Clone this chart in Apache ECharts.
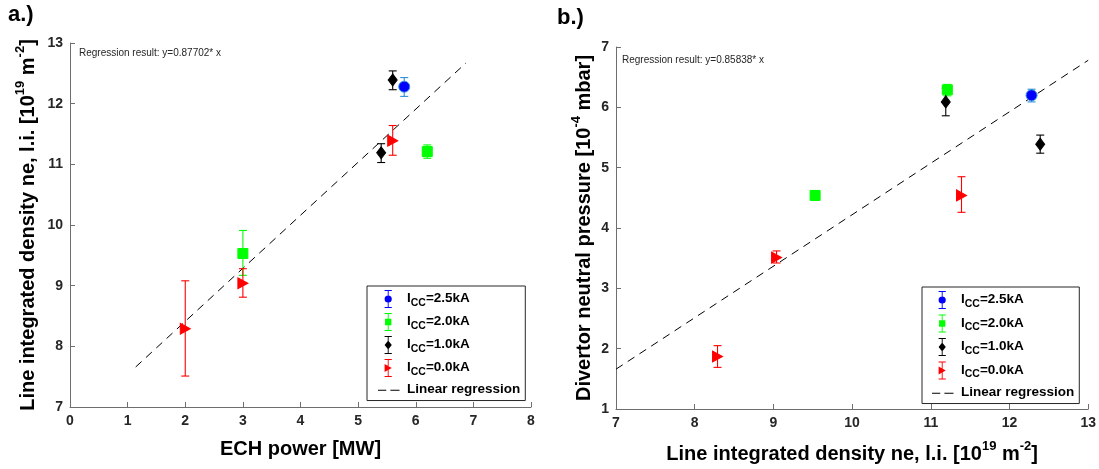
<!DOCTYPE html>
<html>
<head>
<meta charset="utf-8">
<script src="https://cdn.jsdelivr.net/npm/echarts@6/dist/echarts.min.js"></script>
<style>
html,body{margin:0;padding:0;background:#fff;}
#main{width:1099px;height:469px;}
</style>
</head>
<body>
<div id="main"></div>
<script>
// ---------- data ----------
const groupNames = ['2.5kA', '2.0kA', '1.0kA', '0.0kA'];
const regName = 'Linear regression';

// Panel a: ECH power [MW] vs line integrated density
const aBlueX = [5.8],            aBlueY = [12.28],             aBlueLo = [12.12],             aBlueHi = [12.43];
const aGreenX = [3.0, 6.2],      aGreenY = [9.53, 11.21],      aGreenLo = [9.17, 11.10],      aGreenHi = [9.91, 11.32];
const aBlackX = [5.4, 5.6],      aBlackY = [11.19, 12.39],     aBlackLo = [11.03, 12.23],     aBlackHi = [11.34, 12.54];
const aRedX = [2.0, 3.0, 5.6],   aRedY = [8.29, 9.04, 11.39],  aRedLo = [7.51, 8.81, 11.15],  aRedHi = [9.08, 9.28, 11.64];
const aRegX = [1.14, 6.87],      aRegY = [7.66, 12.67];

// Panel b: line integrated density vs divertor neutral pressure
const bBlueX = [12.28],            bBlueY = [6.20],             bBlueLo = [6.09],             bBlueHi = [6.30];
const bGreenX = [9.53, 11.21],     bGreenY = [4.54, 6.29],      bGreenLo = [4.46, 6.19],      bGreenHi = [4.62, 6.38];
const bBlackX = [11.19, 12.39],    bBlackY = [6.09, 5.39],      bBlackLo = [5.86, 5.24],      bBlackHi = [6.32, 5.54];
const bRedX = [8.29, 9.04, 11.39], bRedY = [1.87, 3.51, 4.54],  bRedLo = [1.69, 3.42, 4.26],  bRedHi = [2.05, 3.62, 4.85];
const bRegX = [7.0, 13.0],         bRegY = [1.66, 6.78];

const aXTicks = [0, 1, 2, 3, 4, 5, 6, 7, 8];
const aYTicks = [7, 8, 9, 10, 11, 12, 13];
const bXTicks = [7, 8, 9, 10, 11, 12, 13];
const bYTicks = [1, 2, 3, 4, 5, 6, 7];

const aRegText = 'Regression result: y=0.87702* x';
const bRegText = 'Regression result: y=0.85838* x';

// ---------- styles ----------
const FONT = '"Liberation Sans", Arial, Helvetica, sans-serif';
const styles = {
  '2.5kA': {fill: '#0000ff', bar: '#2f8fd8', symbol: 'circle', size: 11, rotate: 0, border: '#2f8fd8'},
  '2.0kA': {fill: '#00ff00', bar: '#00ff00', symbol: 'rect', size: 10, rotate: 0, border: '#00ff00'},
  '1.0kA': {fill: '#000000', bar: '#000000', symbol: 'diamond', size: [9, 12], rotate: 0, border: '#000000'},
  '0.0kA': {fill: '#ff0000', bar: '#ff0000', symbol: 'triangle', size: [11, 10], rotate: -90, border: '#ff0000'}
};

// legend icons (error bar + marker), bbox 0..24 x 0..20, marker centred at x=10
const bboxPts = 'M24 10L24.01 10L24.01 10.01Z M0 10L0.01 10L0.01 10.01Z M10 0L10.01 0L10.01 0.01Z M10 20L10.01 20L10.01 19.99Z ';
const barPath = bboxPts + 'M6 0L14 0L14 1.2L6 1.2Z M9.5 0L10.5 0L10.5 20L9.5 20Z M6 18.8L14 18.8L14 20L6 20Z ';
const iconPaths = {
  '2.5kA': 'path://' + barPath + 'M14 10A4 4 0 1 1 6 10A4 4 0 1 1 14 10Z',
  '2.0kA': 'path://' + barPath + 'M6.5 6.5L13.5 6.5L13.5 13.5L6.5 13.5Z',
  '1.0kA': 'path://' + barPath + 'M10 5L14 10L10 15L6 10Z',
  '0.0kA': 'path://' + barPath + 'M6 5.5L14 10L6 14.5Z'
};
const regIcon = 'path://' + bboxPts + 'M-5 9.4L5 9.4L5 10.6L-5 10.6Z M10 9.4L21 9.4L21 10.6L10 10.6Z';

function pack(xs, ys, los, his) {
  return xs.map((x, i) => [x, ys[i], los[i], his[i]]);
}

const panelA = {
  '2.5kA': pack(aBlueX, aBlueY, aBlueLo, aBlueHi),
  '2.0kA': pack(aGreenX, aGreenY, aGreenLo, aGreenHi),
  '1.0kA': pack(aBlackX, aBlackY, aBlackLo, aBlackHi),
  '0.0kA': pack(aRedX, aRedY, aRedLo, aRedHi)
};
const panelB = {
  '2.5kA': pack(bBlueX, bBlueY, bBlueLo, bBlueHi),
  '2.0kA': pack(bGreenX, bGreenY, bGreenLo, bGreenHi),
  '1.0kA': pack(bBlackX, bBlackY, bBlackLo, bBlackHi),
  '0.0kA': pack(bRedX, bRedY, bRedLo, bRedHi)
};

function errRenderer(color) {
  return function (params, api) {
    const x = api.value(0), lo = api.value(2), hi = api.value(3);
    const p1 = api.coord([x, lo]), p2 = api.coord([x, hi]);
    const hw = 4;
    const st = {stroke: color, lineWidth: 1.1, fill: null};
    return {
      type: 'group',
      children: [
        {type: 'line', shape: {x1: p1[0], y1: p1[1], x2: p2[0], y2: p2[1]}, style: st},
        {type: 'line', shape: {x1: p1[0] - hw, y1: p1[1], x2: p1[0] + hw, y2: p1[1]}, style: st},
        {type: 'line', shape: {x1: p2[0] - hw, y1: p2[1], x2: p2[0] + hw, y2: p2[1]}, style: st}
      ]
    };
  };
}

const series = [];
function addPanel(panel, regX, regY, idx) {
  series.push({
    type: 'line', name: regName, xAxisIndex: idx, yAxisIndex: idx,
    data: regX.map((x, i) => [x, regY[i]]),
    symbol: 'none', silent: true, z: 1,
    itemStyle: {color: '#000'},
    lineStyle: {color: '#000', width: 1, type: [8, 6]}
  });
  groupNames.forEach(g => {
    const s = styles[g];
    series.push({
      type: 'custom', name: g, xAxisIndex: idx, yAxisIndex: idx,
      data: panel[g], encode: {x: 0, y: [2, 3]},
      itemStyle: {color: s.fill},
      renderItem: errRenderer(s.bar), z: 2, silent: true
    });
    series.push({
      type: 'scatter', name: g, xAxisIndex: idx, yAxisIndex: idx,
      data: panel[g].map(d => [d[0], d[1]]),
      symbol: s.symbol, symbolSize: s.size, symbolRotate: s.rotate, z: 3, silent: true,
      itemStyle: {color: s.fill, borderColor: s.border, borderWidth: 1, opacity: 1}
    });
  });
}
addPanel(panelA, aRegX, aRegY, 0);
addPanel(panelB, bRegX, bRegY, 1);

const tickLabel = {color: '#262626', fontFamily: FONT, fontWeight: 'bold', fontSize: 14};
const axisLine = {show: true, lineStyle: {color: '#6e6e6e', width: 1}};
const axisTick = {show: true, inside: true, length: 5, lineStyle: {color: '#6e6e6e', width: 1}};
const nameRich = {
  t: {fontFamily: FONT, fontWeight: 'bold', fontSize: 20, color: '#000', lineHeight: 24, verticalAlign: 'bottom'},
  p: {fontFamily: FONT, fontWeight: 'bold', fontSize: 13, color: '#000', lineHeight: 13, verticalAlign: 'top'}
};
function valAxis(min, max, ticks, extra) {
  return Object.assign({
    type: 'value', min: min, max: max, interval: 1,
    splitLine: {show: false}, axisLine: axisLine, axisTick: axisTick,
    axisLabel: Object.assign({margin: 7}, tickLabel),
    nameTextStyle: {rich: nameRich}
  }, extra);
}

const legendRich = {
  t: {fontFamily: FONT, fontWeight: 'bold', fontSize: 13.5, color: '#000', lineHeight: 15, verticalAlign: 'top'},
  s: {fontFamily: FONT, fontWeight: 'bold', fontSize: 10.5, color: '#000', lineHeight: 10, verticalAlign: 'top', padding: [6, 0, 0, 0]}
};
function legendFmt(name) {
  if (name === regName) return '{t|Linear regression}';
  return '{t|I}{s|CC}{t|=' + name + '}';
}
const legendData = groupNames.map(g => ({name: g, icon: iconPaths[g], itemStyle: {color: styles[g].fill, borderWidth: 0}}))
  .concat([{name: regName, icon: regIcon, itemStyle: {color: '#000', borderWidth: 0}}]);
function makeLegend(left, top, padLeft, gap) {
  return {
    orient: 'vertical', left: left, top: top,
    data: legendData, formatter: legendFmt,
    itemWidth: 24, itemHeight: 18, itemGap: gap,
    padding: [4, 5, 2, padLeft],
    borderColor: '#262626', borderWidth: 1, backgroundColor: '#fff',
    textStyle: {rich: legendRich}, selectedMode: false
  };
}

const option = {
  animation: false,
  backgroundColor: '#fff',
  grid: [
    {left: 70, top: 43, width: 461, height: 364},
    {left: 616, top: 47, width: 474, height: 364.5}
  ],
  xAxis: [
    valAxis(aXTicks[0], aXTicks[aXTicks.length - 1], aXTicks, {gridIndex: 0, name: '{t|ECH power [MW]}', nameLocation: 'middle', nameGap: 28}),
    valAxis(bXTicks[0], bXTicks[bXTicks.length - 1], bXTicks, {gridIndex: 1, name: '{t|Line integrated density ne, l.i. [10}{p|19}{t| m}{p|-2}{t|]}', nameLocation: 'middle', nameGap: 31})
  ],
  yAxis: [
    valAxis(aYTicks[0], aYTicks[aYTicks.length - 1], aYTicks, {gridIndex: 0, name: '{t|Line integrated density ne, l.i. [10}{p|19}{t| m}{p|-2}{t|]}', nameLocation: 'middle', nameGap: 32}),
    valAxis(bYTicks[0], bYTicks[bYTicks.length - 1], bYTicks, {gridIndex: 1, name: '{t|Divertor neutral pressure [10}{p|-4}{t| mbar]}', nameLocation: 'middle', nameGap: 22})
  ],
  legend: [makeLegend(367, 286, 11, 4.5), makeLegend(922, 287, 10, 5)],
  graphic: [
    {type: 'text', left: 8, top: 4, style: {text: 'a.)', font: 'bold 22px ' + FONT, fill: '#000'}},
    {type: 'text', left: 557, top: 7, style: {text: 'b.)', font: 'bold 22px ' + FONT, fill: '#000'}},
    {type: 'text', left: 79, top: 48, style: {text: aRegText, font: '10px ' + FONT, fill: '#262626'}},
    {type: 'text', left: 622, top: 55, style: {text: bRegText, font: '10px ' + FONT, fill: '#262626'}}
  ],
  series: series
};

const chart = echarts.init(document.getElementById('main'), null, {renderer: 'canvas'});
chart.setOption(option);
</script>
</body>
</html>
